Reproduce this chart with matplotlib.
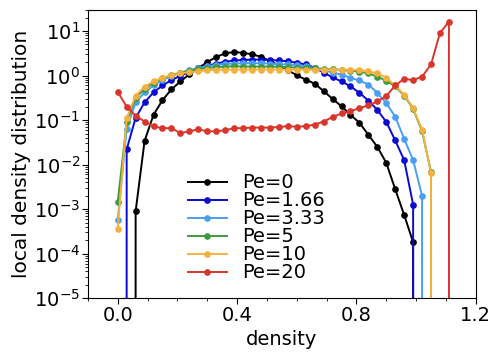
import matplotlib
matplotlib.use("Agg")
import matplotlib.pyplot as plt
import numpy as np

# bin centres of the local density histogram
density = [0.00, 0.03, 0.06, 0.09, 0.12, 0.15, 0.18, 0.21, 0.24, 0.27,
           0.30, 0.33, 0.36, 0.39, 0.42, 0.45, 0.48, 0.51, 0.54, 0.57,
           0.60, 0.63, 0.66, 0.69, 0.72, 0.75, 0.78, 0.81, 0.84, 0.87,
           0.90, 0.93, 0.96, 0.99, 1.02, 1.05, 1.08, 1.11, 1.14]

# empty bins are 0 (they drop off the log axis)
pe0 = [0, 0, 8.9e-4, 0.034, 0.132, 0.28, 0.49, 0.74, 1.07, 1.48,
       2.0, 2.63, 3.16, 3.39, 3.24, 3.02, 2.63, 2.14, 1.70, 1.32,
       1.02, 0.81, 0.66, 0.45, 0.30, 0.204, 0.132, 0.087, 0.047, 0.025,
       0.011, 2.8e-3, 7.4e-4, 1.8e-4, 0, 0, 0, 0, 0]
pe166 = [0, 0.022, 0.112, 0.25, 0.42, 0.60, 0.79, 1.0, 1.2, 1.45,
         1.66, 1.86, 2.04, 2.19, 2.24, 2.29, 2.29, 2.24, 2.19, 2.09,
         1.95, 1.78, 1.51, 1.17, 0.91, 0.74, 0.575, 0.41, 0.275, 0.17,
         0.091, 0.035, 0.0126, 1.26e-3, 0, 0, 0, 0, 0]
pe333 = [5.6e-4, 0.063, 0.25, 0.42, 0.60, 0.79, 0.98, 1.15, 1.32, 1.48,
         1.62, 1.74, 1.82, 1.86, 1.9, 1.9, 1.9, 1.86, 1.82, 1.78,
         1.70, 1.62, 1.48, 1.32, 1.17, 1.05, 0.89, 0.78, 0.63, 0.41,
         0.24, 0.12, 0.038, 0.0126, 2.0e-3, 0, 0, 0, 0]
pe5 = [1.45e-3, 0.089, 0.32, 0.5, 0.69, 0.87, 1.02, 1.17, 1.29, 1.41,
       1.48, 1.55, 1.58, 1.62, 1.6, 1.6, 1.6, 1.6, 1.58, 1.55,
       1.51, 1.48, 1.45, 1.41, 1.38, 1.35, 1.29, 1.23, 1.12, 0.95,
       0.76, 0.575, 0.355, 0.18, 0.056, 6.8e-3, 0, 0, 0]
pe10 = [3.6e-4, 0.11, 0.355, 0.56, 0.74, 0.89, 1.02, 1.12, 1.2, 1.26,
        1.32, 1.35, 1.36, 1.36, 1.37, 1.37, 1.37, 1.37, 1.37, 1.37,
        1.37, 1.37, 1.36, 1.36, 1.36, 1.35, 1.35, 1.32, 1.26, 1.12,
        0.89, 0.6, 0.37, 0.186, 0.06, 6.5e-3, 0, 0, 0]
pe20 = [0.43, 0.2, 0.126, 0.093, 0.072, 0.066, 0.066, 0.051, 0.056, 0.062,
        0.056, 0.056, 0.059, 0.066, 0.066, 0.068, 0.068, 0.068, 0.07, 0.073,
        0.071, 0.073, 0.079, 0.093, 0.117, 0.141, 0.158, 0.186, 0.214, 0.263,
        0.347, 0.6, 0.85, 0.79, 0.95, 1.78, 9.1, 16.2, 0]

labels = ["Pe=0", "Pe=1.66", "Pe=3.33", "Pe=5", "Pe=10", "Pe=20"]
series = [pe0, pe166, pe333, pe5, pe10, pe20]
colors = ["black", "#0a0ad0", "#4a9ef5", "#3f9a3f", "#f5b13e", "#d8362d"]

fig = plt.figure(figsize=(4.91, 3.52), dpi=100)
ax = fig.add_axes([0.179, 0.153, 0.790, 0.819])

for vals, lab, col in zip(series, labels, colors):
    ax.plot(density, vals, marker="o", markersize=3.8, linewidth=1.4,
            color=col, label=lab)

ax.set_yscale("log")
ax.set_xlim(-0.1, 1.2)
ax.set_ylim(1e-5, 30)
ax.set_xticks([0.0, 0.4, 0.8, 1.2])
ax.set_xticks(np.arange(-0.1, 1.21, 0.1), minor=True)
ax.set_yticks([1e-5, 1e-4, 1e-3, 1e-2, 1e-1, 1e0, 1e1])
ax.tick_params(axis="both", which="major", labelsize=14, length=4, pad=1.5)
ax.tick_params(axis="both", which="minor", length=2.5)
ax.set_xlabel("density", fontsize=14, labelpad=4)
ax.set_ylabel("local density distribution", fontsize=14.5, labelpad=2)

ax.legend(loc="upper left", bbox_to_anchor=(0.258, 0.433), frameon=False,
          fontsize=14, labelspacing=-0.05, handlelength=2.0,
          handletextpad=0.8, borderpad=0, borderaxespad=0)

fig.savefig("out.png", dpi=100)
